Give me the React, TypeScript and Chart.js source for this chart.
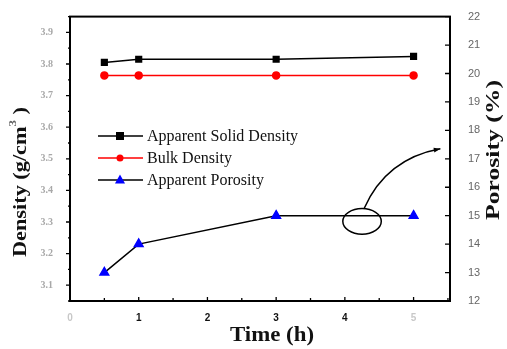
import React, { useEffect, useRef } from "react";
import { Chart, registerables } from "chart.js";

Chart.register(...registerables);

const timeH = [0.5, 1, 3, 5];
const apparentSolidDensity = [3.805, 3.815, 3.815, 3.824];
const bulkDensity = [3.764, 3.764, 3.764, 3.764];
const apparentPorosity = [13.0, 14.0, 15.0, 15.0];

const xTicks = [0, 1, 2, 3, 4, 5];
const densityTicks = [3.1, 3.2, 3.3, 3.4, 3.5, 3.6, 3.7, 3.8, 3.9];
const porosityTicks = [12, 13, 14, 15, 16, 17, 18, 19, 20, 21, 22];

const seriesLabels = ["Apparent Solid Density", "Bulk Density", "Apparent Porosity"];
const xTitle = "Time (h)";
const yTitle = "Density (g/cm";
const y1Title = "Porosity (%)";

// annotation (data coords: x = time, y = porosity)
const ellipseCenter = { x: 4.25, y: 14.8 };
const ellipseRadii = { x: 0.28, y: 0.45 };
const arrowPath = [
  { x: 4.28, y: 15.25 },
  { x: 4.6, y: 17.0 },
  { x: 5.39, y: 17.35 },
];

function drawMarker(ctx: CanvasRenderingContext2D, style: string, x: number, y: number, r: number, color: string) {
  ctx.save();
  ctx.fillStyle = color;
  ctx.beginPath();
  if (style === "rect") {
    ctx.rect(x - r, y - r, 2 * r, 2 * r);
  } else if (style === "triangle") {
    ctx.moveTo(x, y - r * 1.1);
    ctx.lineTo(x + r, y + r * 0.7);
    ctx.lineTo(x - r, y + r * 0.7);
    ctx.closePath();
  } else {
    ctx.arc(x, y, r, 0, Math.PI * 2);
  }
  ctx.fill();
  ctx.restore();
}

const decor = {
  id: "decor",
  afterDraw(chart: any) {
    const ctx: CanvasRenderingContext2D = chart.ctx;
    const { left, right, top, bottom } = chart.chartArea;
    const xs = chart.scales.x;
    const ys = chart.scales.y;
    const y1 = chart.scales.y1;
    ctx.save();
    // frame
    ctx.strokeStyle = "#000";
    ctx.lineWidth = 2;
    ctx.strokeRect(left, top, right - left, bottom - top);
    ctx.lineWidth = 1.3;
    ctx.beginPath();
    // x ticks (inside, upward)
    for (let v = 0; v <= 5.5; v += 0.5) {
      const px = xs.getPixelForValue(v);
      const len = Number.isInteger(v) ? 4 : 3;
      ctx.moveTo(px, bottom);
      ctx.lineTo(px, bottom - len);
    }
    // left ticks (outside)
    for (let v = 3.05; v <= 3.951; v += 0.05) {
      const py = ys.getPixelForValue(v);
      const major = Math.abs(Math.round(v * 10) - v * 10) < 0.01;
      ctx.moveTo(left, py);
      ctx.lineTo(left - (major ? 4 : 2), py);
    }
    // right ticks (inside)
    for (let v = 12; v <= 22; v += 0.5) {
      const py = y1.getPixelForValue(v);
      const major = Number.isInteger(v);
      ctx.moveTo(right, py);
      ctx.lineTo(right - (major ? 5 : 0), py);
    }
    ctx.stroke();

    // annotation ellipse + arrow
    const cx = xs.getPixelForValue(ellipseCenter.x);
    const cy = y1.getPixelForValue(ellipseCenter.y);
    const rx = xs.getPixelForValue(ellipseCenter.x + ellipseRadii.x) - cx;
    const ry = cy - y1.getPixelForValue(ellipseCenter.y + ellipseRadii.y);
    ctx.lineWidth = 1.5;
    ctx.beginPath();
    ctx.ellipse(cx, cy, rx, ry, 0, 0, Math.PI * 2);
    ctx.stroke();
    const p = arrowPath.map((q) => ({ x: xs.getPixelForValue(q.x), y: y1.getPixelForValue(q.y) }));
    ctx.beginPath();
    ctx.moveTo(p[0].x, p[0].y);
    ctx.quadraticCurveTo(p[1].x, p[1].y, p[2].x, p[2].y);
    ctx.stroke();
    const ang = Math.atan2(p[2].y - p[1].y, p[2].x - p[1].x);
    ctx.fillStyle = "#000";
    ctx.beginPath();
    ctx.moveTo(p[2].x, p[2].y);
    ctx.lineTo(p[2].x - 7 * Math.cos(ang - 0.35), p[2].y - 7 * Math.sin(ang - 0.35));
    ctx.lineTo(p[2].x - 7 * Math.cos(ang + 0.35), p[2].y - 7 * Math.sin(ang + 0.35));
    ctx.closePath();
    ctx.fill();

    // legend
    const legX = 98;
    const legY = [136, 158, 180];
    chart.data.datasets.forEach((ds: any, i: number) => {
      const y = legY[i];
      ctx.strokeStyle = ds.borderColor;
      ctx.lineWidth = 1.5;
      ctx.beginPath();
      ctx.moveTo(legX, y);
      ctx.lineTo(legX + 45, y);
      ctx.stroke();
      drawMarker(ctx, ds.pointStyle, legX + 22, y, ds.pointRadius, ds.pointBackgroundColor);
      ctx.fillStyle = "#111";
      ctx.font = "16px 'Liberation Serif', 'Times New Roman', serif";
      ctx.textAlign = "left";
      ctx.textBaseline = "middle";
      ctx.fillText(ds.label, legX + 49, y + 1);
    });

    // titles
    const serifBold = (s: number) => `bold ${s}px 'Liberation Serif', 'Times New Roman', serif`;
    // x title
    ctx.fillStyle = "#111";
    ctx.font = serifBold(20);
    ctx.textAlign = "center";
    ctx.textBaseline = "middle";
    {
      const w = ctx.measureText(xTitle).width;
      ctx.save();
      ctx.translate(272, 336);
      ctx.scale(84 / w, 1);
      ctx.fillText(xTitle, 0, 0);
      ctx.restore();
    }
    // left title
    {
      ctx.save();
      ctx.translate(21, 182);
      ctx.rotate(-Math.PI / 2);
      ctx.font = serifBold(19);
      const w1 = ctx.measureText(yTitle).width;
      ctx.font = serifBold(11);
      const w2 = ctx.measureText("3").width;
      ctx.font = serifBold(19);
      const w3 = ctx.measureText(" )").width;
      const total = w1 + w2 + w3;
      ctx.scale(150 / total, 1);
      ctx.textAlign = "left";
      let x = -total / 2;
      ctx.fillText(yTitle, x, 0);
      x += w1;
      ctx.font = serifBold(11);
      ctx.fillStyle = "#666";
      ctx.fillText("3", x, -8);
      x += w2;
      ctx.fillStyle = "#111";
      ctx.font = serifBold(19);
      ctx.fillText(" )", x, 0);
      ctx.restore();
    }
    // right title
    {
      ctx.save();
      ctx.translate(494, 150);
      ctx.rotate(-Math.PI / 2);
      ctx.font = serifBold(19);
      const w = ctx.measureText(y1Title).width;
      ctx.scale(140 / w, 1);
      ctx.textAlign = "center";
      ctx.fillText(y1Title, 0, 0);
      ctx.restore();
    }
    ctx.restore();
  },
};

export default function App() {
  const ref = useRef<HTMLCanvasElement>(null);
  useEffect(() => {
    if (!ref.current) return;
    const chart = new Chart(ref.current, {
      type: "line",
      data: {
        datasets: [
          {
            label: seriesLabels[0],
            data: timeH.map((t, i) => ({ x: t, y: apparentSolidDensity[i] })),
            borderColor: "#000",
            pointBackgroundColor: "#000",
            pointBorderColor: "#000",
            pointStyle: "rect",
            pointRadius: 4,
            borderWidth: 1.5,
            yAxisID: "y",
          },
          {
            label: seriesLabels[1],
            data: timeH.map((t, i) => ({ x: t, y: bulkDensity[i] })),
            borderColor: "#ff0000",
            pointBackgroundColor: "#ff0000",
            pointBorderColor: "#ff0000",
            pointStyle: "circle",
            pointRadius: 3.5,
            borderWidth: 1.5,
            yAxisID: "y",
          },
          {
            label: seriesLabels[2],
            data: timeH.map((t, i) => ({ x: t, y: apparentPorosity[i] })),
            borderColor: "#000",
            pointBackgroundColor: "#0000ff",
            pointBorderColor: "#0000ff",
            pointStyle: "triangle",
            pointRadius: 5,
            borderWidth: 1.5,
            yAxisID: "y1",
          },
        ],
      },
      options: {
        responsive: false,
        animation: false,
        devicePixelRatio: 1,
        layout: { padding: { top: 15, left: 0, right: 0, bottom: 0 } },
        plugins: { legend: { display: false }, tooltip: { enabled: false } },
        scales: {
          x: {
            type: "linear",
            min: 0,
            max: 5.53,
            grid: { display: false },
            border: { display: false },
            afterBuildTicks: (s: any) => {
              s.ticks = xTicks.map((v) => ({ value: v }));
            },
            afterFit: (s: any) => {
              s.height = 48;
            },
            ticks: {
              padding: 3,
              font: { family: "'Liberation Sans', Arial, sans-serif", size: 10, weight: "bold" },
              color: (c: any) => (c.tick && (c.tick.value === 0 || c.tick.value === 5) ? "#c8c8c8" : "#111"),
            },
          },
          y: {
            type: "linear",
            position: "left",
            min: 3.05,
            max: 3.95,
            grid: { display: false },
            border: { display: false },
            afterBuildTicks: (s: any) => {
              s.ticks = densityTicks.map((v) => ({ value: v }));
            },
            afterFit: (s: any) => {
              s.width = 70;
            },
            ticks: {
              padding: 9,
              callback: (v: any) => Number(v).toFixed(1),
              font: { family: "'Liberation Serif', serif", size: 10, weight: "bold" },
              color: "#a8a8a8",
            },
          },
          y1: {
            type: "linear",
            position: "right",
            min: 12,
            max: 22,
            grid: { display: false },
            border: { display: false },
            afterBuildTicks: (s: any) => {
              s.ticks = porosityTicks.map((v) => ({ value: v }));
            },
            afterFit: (s: any) => {
              s.width = 57;
            },
            ticks: {
              padding: 10,
              font: { family: "'Liberation Sans', Arial, sans-serif", size: 11 },
              color: "#666",
            },
          },
        },
      },
      plugins: [decor],
    } as any);
    return () => chart.destroy();
  }, []);
  return (
    <div style={{ position: "absolute", left: 0, top: 0, width: 507, height: 349, background: "#fff" }}>
      <canvas ref={ref} width={507} height={349} />
    </div>
  );
}
